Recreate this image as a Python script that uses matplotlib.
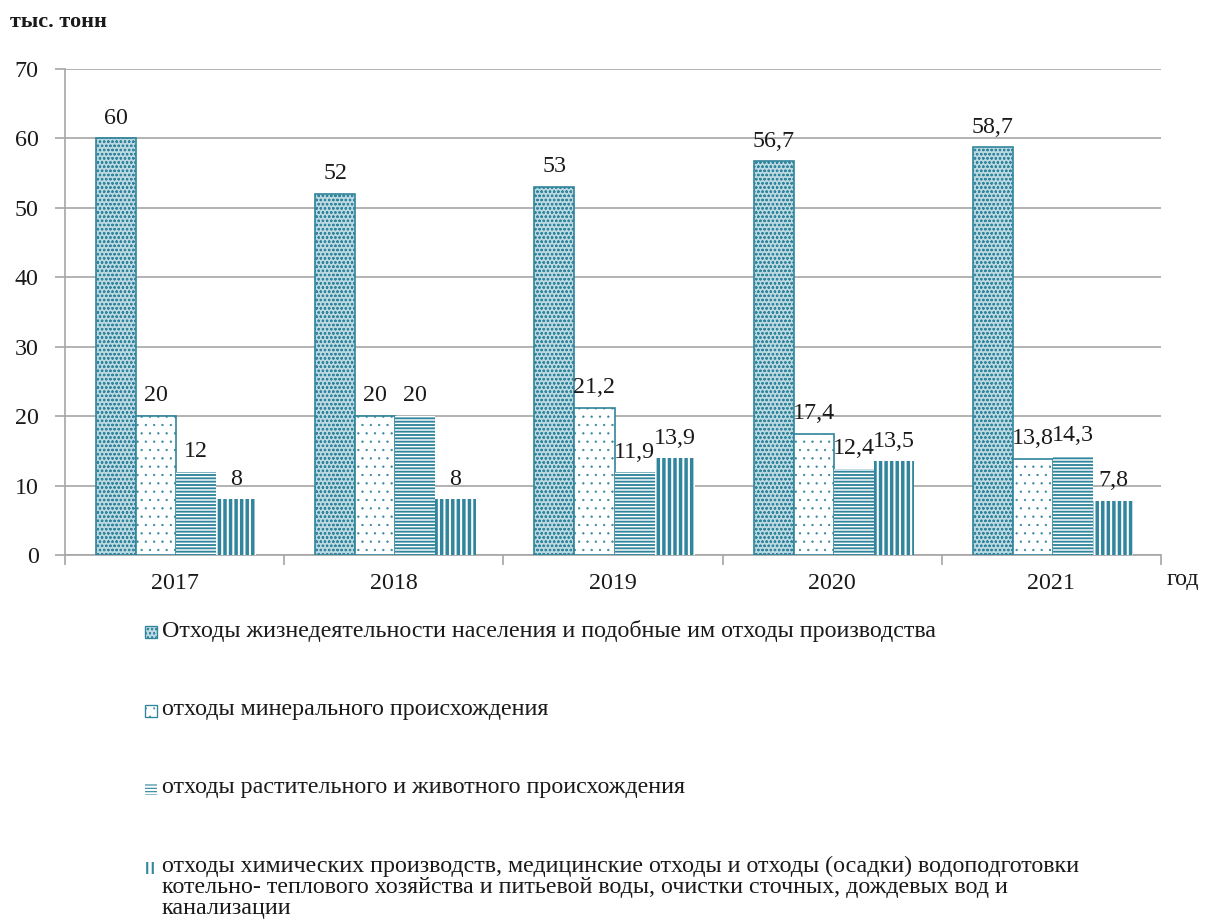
import matplotlib
matplotlib.use("Agg")
import matplotlib.pyplot as plt
import numpy as np
from matplotlib.patches import Rectangle

years = ["2017", "2018", "2019", "2020", "2021"]
household = [60, 52, 53, 56.7, 58.7]
mineral = [20, 20, 21.2, 17.4, 13.8]
plant_animal = [12, 20, 11.9, 12.4, 14.3]
chemical = [8, 8, 13.9, 13.5, 7.8]

series_labels = [
    "Отходы жизнедеятельности населения и подобные им отходы производства",
    "отходы минерального происхождения",
    "отходы растительного и животного происхождения",
    "отходы химических производств, медицинские отходы и отходы (осадки) водоподготовки\n"
    "котельно- теплового хозяйства и питьевой воды, очистки сточных, дождевых вод и\n"
    "канализации",
]

TEAL = "#31859C"
TXT = "#1a1a1a"
FS = 17.3
plt.rcParams["font.family"] = ["Liberation Serif", "DejaVu Serif"]

fig = plt.figure(figsize=(12.05, 9.24), dpi=100)
ax = fig.add_axes([65 / 1205, 1 - 555 / 924, (1161 - 65) / 1205, (555 - 69) / 924])

styles = [
    dict(facecolor="#bcd9e1", edgecolor=TEAL, hatch="oooo", lw=1.2, hlw=0.6),
    dict(facecolor="white", edgecolor=TEAL, hatch="..", lw=1.2, hlw=0.4),
    dict(facecolor="white", edgecolor=TEAL, hatch="-----", lw=0, hlw=1.35),
    dict(facecolor="white", edgecolor=TEAL, hatch="|||", lw=0, hlw=2.5),
]
data = [household, mineral, plant_animal, chemical]
w = 0.183
x = np.arange(len(years))
for k, (vals, st) in enumerate(zip(data, styles)):
    with plt.rc_context({"hatch.linewidth": st["hlw"]}):
        bars = ax.bar(x + 0.507 + (k - 1.5) * w, vals, width=w,
                      facecolor=st["facecolor"], edgecolor=st["edgecolor"],
                      hatch=st["hatch"], linewidth=st["lw"], zorder=3)
        for b in bars:
            if hasattr(b, "set_hatch_linewidth"):
                b.set_hatch_linewidth(st["hlw"])
    for b, v in zip(bars, vals):
        lab = (f"{v:g}").replace(".", ",")
        ax.annotate(lab, (b.get_x() + b.get_width() / 2, v), xytext=(0, 7),
                    textcoords="offset points", ha="center", va="bottom",
                    fontsize=FS, color=TXT, zorder=4)

ax.set_xlim(0, 5)
ax.set_ylim(0, 70)
ax.set_yticks(range(0, 71, 10))
ax.yaxis.grid(True, color="#a6a6a6", linewidth=1.2, zorder=0)
ax.set_axisbelow(True)
ax.set_xticks(x + 0.5)
ax.set_xticklabels(years)
ax.set_xticks(np.arange(0, 6), minor=True)
ax.tick_params(axis="x", which="major", length=0, pad=13, labelsize=FS, labelcolor=TXT)
ax.tick_params(axis="x", which="minor", length=7, color="#a6a6a6", width=1.2)
ax.tick_params(axis="y", length=7, color="#a6a6a6", width=1.2, labelsize=FS,
               pad=12, labelcolor=TXT)
for s in ["top", "right"]:
    ax.spines[s].set_visible(False)
for s in ["left", "bottom"]:
    ax.spines[s].set_color("#a6a6a6")
    ax.spines[s].set_linewidth(1.2)

fig.text(10 / 1205, 1 - 22 / 924, "тыс. тонн", fontsize=16, fontweight="bold",
         va="center", ha="left", color=TXT)
fig.text(1167 / 1205, 1 - 580 / 924, "год", fontsize=FS, va="center", ha="left",
         color=TXT)

# legend drawn manually so the handle sits on the first line of each entry
leg_y = [632, 711, 789, 868]
for st, lab, yy in zip(styles, series_labels, leg_y):
    with plt.rc_context({"hatch.linewidth": st["hlw"] * 0.6}):
        r = Rectangle((145 / 1205, 1 - (yy + 6) / 924), 12 / 1205, 12 / 924,
                      transform=fig.transFigure, facecolor=st["facecolor"],
                      edgecolor=st["edgecolor"], hatch=st["hatch"],
                      linewidth=st["lw"] * 0.8)
        if hasattr(r, "set_hatch_linewidth"):
            r.set_hatch_linewidth(st["hlw"] * 0.6)
    fig.add_artist(r)
    fig.text(162 / 1205, 1 - (yy - 12) / 924, lab, fontsize=FS, va="top", ha="left",
             color=TXT, linespacing=0.98)

fig.savefig("out.png", dpi=100)
